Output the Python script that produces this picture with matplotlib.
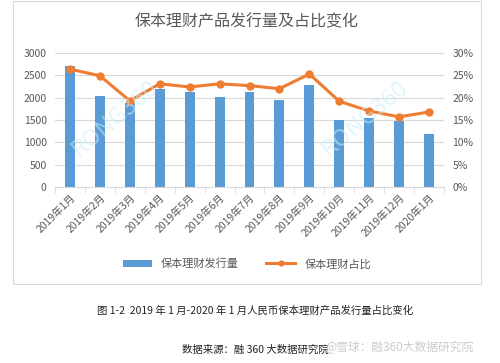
import matplotlib.pyplot as plt
from matplotlib.patches import Rectangle
from matplotlib.ticker import FuncFormatter

plt.rcParams["font.family"] = ["Noto Sans CJK SC", "DejaVu Sans"]

months = ["2019年1月", "2019年2月", "2019年3月", "2019年4月", "2019年5月", "2019年6月",
          "2019年7月", "2019年8月", "2019年9月", "2019年10月", "2019年11月", "2019年12月",
          "2020年1月"]
issue_volume = [2710, 2030, 1880, 2200, 2125, 2005, 2120, 1950, 2275, 1490, 1555, 1470, 1180]
share_pct = [26.4, 24.9, 19.3, 23.1, 22.4, 23.1, 22.7, 22.0, 25.3, 19.2, 17.0, 15.7, 16.8]

BAR = "#5B9BD5"
LINE = "#ED7D31"
GREY = "#595959"

W, H = 500, 363
fig = plt.figure(figsize=(W / 100, H / 100), dpi=100)

# chart frame
fig.patches.append(Rectangle((13 / W, 1 - 284 / H), 468 / W, 283 / H, transform=fig.transFigure,
                             fill=False, edgecolor="#d9d9d9", linewidth=0.8))

ax = fig.add_axes([55 / W, 1 - 187 / H, 389 / W, 134 / H])
x = list(range(len(months)))
ax.bar(x, issue_volume, width=0.33, color=BAR, label="保本理财发行量", zorder=2)
ax.set_ylim(0, 3000)
ax.set_yticks(range(0, 3001, 500))
ax.set_xlim(-0.5, len(months) - 0.5)
ax.grid(axis="y", color="#d9d9d9", linewidth=0.8, zorder=0)
ax.set_axisbelow(True)
for s in ["top", "right", "left"]:
    ax.spines[s].set_visible(False)
ax.spines["bottom"].set_color("#d9d9d9")
ax.tick_params(axis="y", length=0, labelsize=7.5, labelcolor=GREY, pad=6)
ax.set_xticks(x)
ax.set_xticklabels(months, rotation=45, ha="right", rotation_mode="anchor",
                   fontsize=7.5, color=GREY)
ax.tick_params(axis="x", length=0, pad=4)
ax.set_xticks([i - 0.5 for i in range(len(months) + 1)], minor=True)
ax.tick_params(axis="x", which="minor", length=4, color="#d9d9d9")

ax2 = ax.twinx()
ax2.plot(x, share_pct, color=LINE, linewidth=2.2, marker="o", markersize=5,
         label="保本理财占比", zorder=3)
ax2.set_ylim(0, 30)
ax2.set_yticks(range(0, 31, 5))
ax2.yaxis.set_major_formatter(FuncFormatter(lambda v, p: f"{int(v)}%"))
ax2.tick_params(axis="y", length=0, labelsize=7.5, labelcolor=GREY, pad=6)
for s in ax2.spines.values():
    s.set_visible(False)

# watermarks
for wx in (115, 365):
    fig.text(wx / W, 1 - 118 / H, "RONG360", fontsize=17, color="#c8eefa", rotation=40,
             ha="center", va="center", alpha=0.55, zorder=5)

fig.text(247 / W, 1 - 22 / H, "保本理财产品发行量及占比变化", fontsize=11.5, color=GREY,
         ha="center", va="center")

h1, l1 = ax.get_legend_handles_labels()
h2, l2 = ax2.get_legend_handles_labels()
fig.legend(h1 + h2, l1 + l2, loc="center", bbox_to_anchor=(247 / W, 1 - 264 / H), ncol=2,
           frameon=False, fontsize=8, labelcolor=GREY, handlelength=2.6, columnspacing=2.5,
           markerscale=0.7)

fig.text(255 / W, 1 - 311 / H, "图 1-2  2019 年 1 月-2020 年 1 月人民币保本理财产品发行量占比变化",
         fontsize=7.5, color="#222222", ha="center", va="center")
fig.text(255 / W, 1 - 350 / H, "数据来源：融 360 大数据研究院", fontsize=7.5, color="#222222",
         ha="center", va="center")
fig.text(400 / W, 1 - 347 / H, "@雪球：融360大数据研究院", fontsize=8.5, color="#cccccc",
         ha="center", va="center")

fig.savefig("out.png", dpi=100)
